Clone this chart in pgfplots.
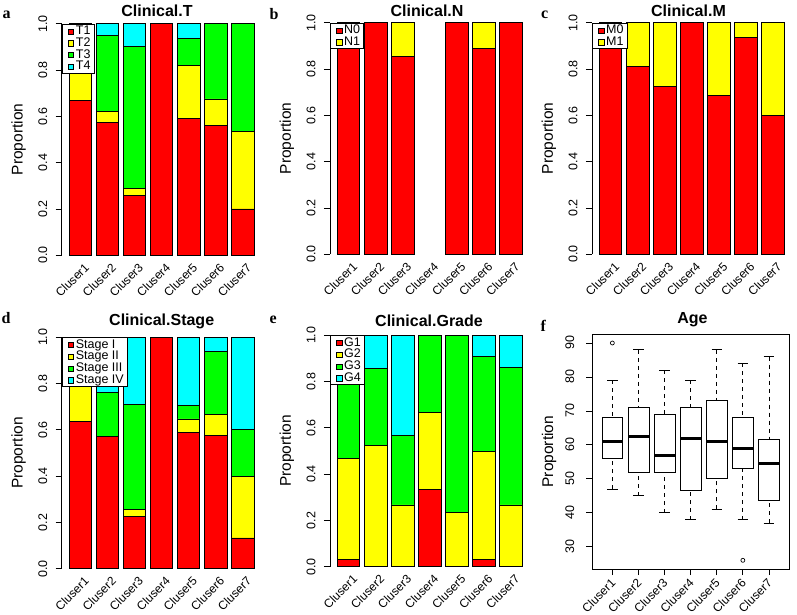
\documentclass[border=0pt]{standalone}
\usepackage{fontspec}
\setmainfont{Liberation Sans}
\newfontfamily\letterfont{Liberation Serif}
\usepackage{pgfplots}
\pgfplotsset{compat=1.18}
\usepgfplotslibrary{statistics}
\definecolor{Rred}{RGB}{255,0,0}
\definecolor{Ryellow}{RGB}{255,255,0}
\definecolor{Rgreen}{RGB}{0,255,0}
\definecolor{Rcyan}{RGB}{0,255,255}

\pgfplotsset{
  common/.style={
    scale only axis,
    clip=false,
    tick align=outside,
    major tick length=6pt,
    /pgf/number format/assume math mode=true,
    tick label style={font=\fontsize{12.5}{14}\selectfont},
    xticklabel style={font=\fontsize{12}{14}\selectfont},
    yticklabel style={rotate=90, anchor=base, inner sep=0pt},
    ylabel={Proportion},
    every axis y label/.style={at={(rel axis cs:0,0.5)}, xshift=-39pt, rotate=90, anchor=base, font=\fontsize{15.5}{18}\selectfont},
  },
  barpanel/.style={
    common,
    width=199.8pt, height=250pt,
    xmin=0.31, xmax=7.69, ymin=-0.04, ymax=1.04,
    axis lines*=left,
    x axis line style={draw=none},
    y axis line style={draw=none},
    xtick={1,...,7},
    xticklabels={Cluser1,Cluser2,Cluser3,Cluser4,Cluser5,Cluser6,Cluser7},
    x tick style={draw=none},
    y tick style={line width=0.8pt, black},
    ytick={0,0.2,0.4,0.6,0.8,1},
    yticklabels={0.0,0.2,0.4,0.6,0.8,1.0},
    yticklabel shift=8.5pt,
    xticklabel style={xshift=6.5pt, yshift=5pt, rotate=45, anchor=east, inner sep=0pt},
    ybar stacked, bar width=0.8333,
    every axis plot/.append style={draw=black, line width=0.8pt},
    legend image code/.code={\path[draw=none, fill=none] (0pt,-3pt) rectangle (10pt,3pt); \draw[#1, draw=black, line width=0.6pt] (4.8pt,-3pt) rectangle (10pt,2.2pt);},
    legend style={at={(axis cs:0.31,1)}, anchor=north west, draw=black, line width=0.8pt, fill=white,
      font=\fontsize{12.5}{12.5}\selectfont, inner xsep=1.5pt, inner ysep=1pt, row sep=0pt,
      nodes={inner ysep=0.8pt, inner xsep=2pt, text height=8.6pt, text depth=1.6pt}},
    legend cell align=left,
  },
  rbox/.style={draw=black, line width=0.8pt, mark=o, mark size=2pt, mark options={solid, line width=0.7pt}},
}

\begin{document}
\begin{tikzpicture}[x=1pt,y=1pt]
\useasboundingbox (0,0) rectangle (797,614);

% ---------- a: Clinical.T ----------
\begin{axis}[barpanel, at={(61.7pt,349.5pt)}, anchor=south west]
\addplot[fill=Rred] coordinates {(1,0.667) (2,0.572) (3,0.257) (4,1) (5,0.589) (6,0.559) (7,0.2)};
\addplot[fill=Ryellow] coordinates {(1,0.333) (2,0.049) (3,0.033) (4,0) (5,0.231) (6,0.116) (7,0.333)};
\addplot[fill=Rgreen] coordinates {(1,0) (2,0.329) (3,0.612) (4,0) (5,0.118) (6,0.325) (7,0.467)};
\addplot[fill=Rcyan] coordinates {(1,0) (2,0.05) (3,0.098) (4,0) (5,0.062) (6,0) (7,0)};
\legend{T1,T2,T3,T4}
\draw[line width=0.8pt] (axis cs:0.31,0) -- (axis cs:0.31,1);
\end{axis}

% ---------- b: Clinical.N ----------
\begin{axis}[barpanel, at={(329.9pt,350.5pt)}, anchor=south west]
\addplot[fill=Rred] coordinates {(1,1) (2,1) (3,0.853) (4,0) (5,1) (6,0.889) (7,1)};
\addplot[fill=Ryellow] coordinates {(1,0) (2,0) (3,0.147) (4,0) (5,0) (6,0.111) (7,0)};
\legend{N0,N1}
\draw[line width=0.8pt] (axis cs:0.31,0) -- (axis cs:0.31,1);
\end{axis}

% ---------- c: Clinical.M ----------
\begin{axis}[barpanel, at={(591.9pt,350.5pt)}, anchor=south west]
\addplot[fill=Rred] coordinates {(1,1) (2,0.81) (3,0.725) (4,1) (5,0.687) (6,0.937) (7,0.6)};
\addplot[fill=Ryellow] coordinates {(1,0) (2,0.19) (3,0.275) (4,0) (5,0.313) (6,0.063) (7,0.4)};
\legend{M0,M1}
\draw[line width=0.8pt] (axis cs:0.31,0) -- (axis cs:0.31,1);
\end{axis}

% ---------- d: Clinical.Stage ----------
\begin{axis}[barpanel, at={(61.6pt,36pt)}, anchor=south west]
\addplot[fill=Rred] coordinates {(1,0.635) (2,0.572) (3,0.225) (4,1) (5,0.589) (6,0.576) (7,0.133)};
\addplot[fill=Ryellow] coordinates {(1,0.365) (2,0) (3,0.033) (4,0) (5,0.058) (6,0.09) (7,0.267)};
\addplot[fill=Rgreen] coordinates {(1,0) (2,0.189) (3,0.452) (4,0) (5,0.059) (6,0.274) (7,0.2)};
\addplot[fill=Rcyan] coordinates {(1,0) (2,0.239) (3,0.29) (4,0) (5,0.294) (6,0.06) (7,0.4)};
\legend{Stage I,Stage II,Stage III,Stage IV}
\draw[line width=0.8pt] (axis cs:0.31,0) -- (axis cs:0.31,1);
\end{axis}

% ---------- e: Clinical.Grade ----------
\begin{axis}[barpanel, at={(329.9pt,38pt)}, anchor=south west]
\addplot[fill=Rred] coordinates {(1,0.032) (2,0) (3,0) (4,0.333) (5,0) (6,0.032) (7,0)};
\addplot[fill=Ryellow] coordinates {(1,0.434) (2,0.523) (3,0.267) (4,0.332) (5,0.236) (6,0.467) (7,0.267)};
\addplot[fill=Rgreen] coordinates {(1,0.534) (2,0.332) (3,0.3) (4,0.335) (5,0.764) (6,0.411) (7,0.595)};
\addplot[fill=Rcyan] coordinates {(1,0) (2,0.145) (3,0.433) (4,0) (5,0) (6,0.09) (7,0.138)};
\legend{G1,G2,G3,G4}
\draw[line width=0.8pt] (axis cs:0.31,0) -- (axis cs:0.31,1);
\end{axis}

% ---------- f: Age ----------
\begin{axis}[common, at={(592pt,45pt)}, anchor=south west,
  width=197.3pt, height=234.7pt,
  xmin=0.22, xmax=7.78, ymin=23.44, ymax=92.56,
  axis line style={line width=0.8pt},
  xtick pos=left, ytick pos=left,
  every tick/.style={line width=0.8pt, black},
  xtick={1,...,7},
  xticklabels={Cluser1,Cluser2,Cluser3,Cluser4,Cluser5,Cluser6,Cluser7},
  xticklabel style={xshift=1pt, yshift=-6pt, rotate=45, anchor=east, inner sep=0pt},
  ytick={30,40,50,60,70,80,90},
  yticklabels={30,40,50,60,70,80,90},
  yticklabel shift=12pt,
  boxplot/draw direction=y,
  boxplot/box extend=0.8,
  boxplot/whisker extend=0.4,
  boxplot/every box/.style={draw=black, fill=white, line width=0.8pt, solid},
  boxplot/every median/.style={line width=3pt, solid},
  boxplot/draw/lower whisker/.code={%
    \draw[line width=0.8pt, dash pattern=on 4pt off 4pt]
      (boxplot box cs:\pgfplotsboxplotvalue{lower whisker},0.5) -- (boxplot box cs:\pgfplotsboxplotvalue{lower quartile},0.5);
    \draw[line width=0.8pt, solid]
      (boxplot whisker cs:\pgfplotsboxplotvalue{lower whisker},0) -- (boxplot whisker cs:\pgfplotsboxplotvalue{lower whisker},1);
  },
  boxplot/draw/upper whisker/.code={%
    \draw[line width=0.8pt, dash pattern=on 4pt off 4pt]
      (boxplot box cs:\pgfplotsboxplotvalue{upper whisker},0.5) -- (boxplot box cs:\pgfplotsboxplotvalue{upper quartile},0.5);
    \draw[line width=0.8pt, solid]
      (boxplot whisker cs:\pgfplotsboxplotvalue{upper whisker},0) -- (boxplot whisker cs:\pgfplotsboxplotvalue{upper whisker},1);
  },
]
\addplot[rbox, boxplot prepared={draw position=1, lower whisker=47, lower quartile=56, median=61, upper quartile=68, upper whisker=79}] table[row sep=\\, y index=0] {data\\ 90\\};
\addplot[rbox, boxplot prepared={draw position=2, lower whisker=45, lower quartile=52, median=62.5, upper quartile=71, upper whisker=88}] coordinates {};
\addplot[rbox, boxplot prepared={draw position=3, lower whisker=40, lower quartile=52, median=57, upper quartile=69, upper whisker=82}] coordinates {};
\addplot[rbox, boxplot prepared={draw position=4, lower whisker=38, lower quartile=46.5, median=62, upper quartile=71, upper whisker=79}] coordinates {};
\addplot[rbox, boxplot prepared={draw position=5, lower whisker=41, lower quartile=50, median=61, upper quartile=73, upper whisker=88}] coordinates {};
\addplot[rbox, boxplot prepared={draw position=6, lower whisker=38, lower quartile=53, median=59, upper quartile=68, upper whisker=84}] table[row sep=\\, y index=0] {data\\ 26\\};
\addplot[rbox, boxplot prepared={draw position=7, lower whisker=37, lower quartile=43.5, median=54.5, upper quartile=61.5, upper whisker=86}] coordinates {};
\end{axis}

% ---------- titles ----------
\begin{scope}[every node/.style={font=\bfseries\fontsize{16}{18}\selectfont, anchor=base, inner sep=0pt}]
\node at (157,597) {Clinical.T};
\node at (427,597) {Clinical.N};
\node at (688.5,597) {Clinical.M};
\node at (161.7,289) {Clinical.Stage};
\node at (429,288) {Clinical.Grade};
\node at (692.5,290.5) {Age};
\end{scope}

% ---------- panel letters ----------
\begin{scope}[every node/.style={font=\letterfont\bfseries\fontsize{16}{18}\selectfont, anchor=base west, inner sep=0pt}]
\node at (2.5,595.7) {a};
\node at (269.5,594) {b};
\node at (541,595.7) {c};
\node at (1.5,290.7) {d};
\node at (269.5,290.7) {e};
\node at (540.5,282.3) {f};
\end{scope}
\end{tikzpicture}
\end{document}
